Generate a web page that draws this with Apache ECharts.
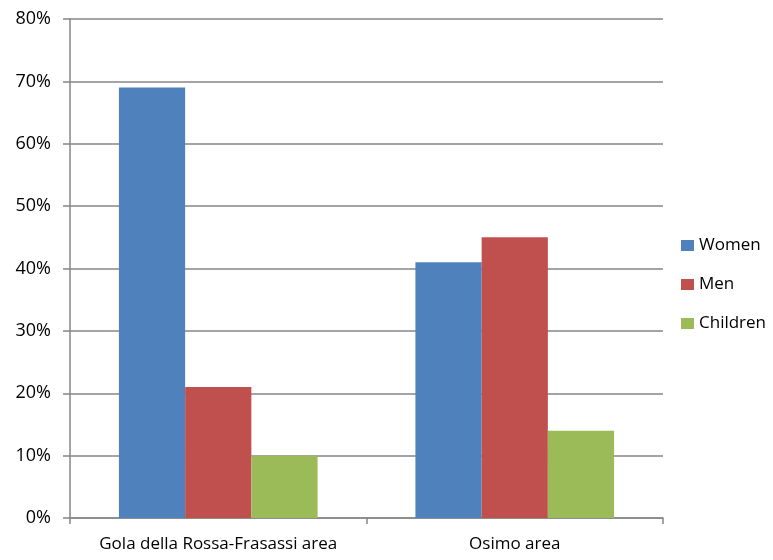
<!DOCTYPE html>
<html>
<head>
<meta charset="utf-8">
<script src="https://cdn.jsdelivr.net/npm/echarts@6/dist/echarts.min.js"></script>
<style>
    html, body {margin: 0; padding: 0; background: #fff;}
    #chart {width: 773px; height: 560px;}
</style>
</head>
<body>
<div id="chart"></div>
<script>
    const categories = ['Gola della Rossa-Frasassi area', 'Osimo area']
    const women = [69, 41]
    const men = [21, 45]
    const children = [10, 14]
    const yTicks = [0, 10, 20, 30, 40, 50, 60, 70, 80]

    const font = "'Open Sans', 'Liberation Sans', sans-serif"
    const gray = '#868686'

    const myChart = echarts.init(document.getElementById('chart'))
    myChart.setOption({
        animation: false,
        grid: {left: 70, right: 110, top: 19, bottom: 42},
        legend: {
            orient: 'vertical',
            left: 676,
            top: 232,
            itemWidth: 13,
            itemHeight: 11,
            itemGap: 22,
            icon: 'rect',
            textStyle: {fontFamily: font, fontSize: 17, color: '#000'},
            data: ['Women', 'Men', 'Children']
        },
        xAxis: {
            type: 'category',
            data: categories,
            axisLine: {lineStyle: {color: gray, width: 1.5}},
            axisTick: {show: true, length: 6, lineStyle: {color: gray, width: 1.5}},
            axisLabel: {fontFamily: font, fontSize: 17, color: '#000', margin: 18, interval: 0}
        },
        yAxis: {
            type: 'value',
            min: yTicks[0],
            max: yTicks[yTicks.length - 1],
            interval: 10,
            axisLine: {show: true, lineStyle: {color: gray, width: 1.5}},
            axisTick: {show: true, length: 7, lineStyle: {color: gray, width: 1.5}},
            splitLine: {lineStyle: {color: gray, width: 1.5}},
            axisLabel: {fontFamily: font, fontSize: 18, color: '#000', margin: 19, formatter: '{value}%'}
        },
        series: [
            {name: 'Women', type: 'bar', data: women, barGap: 0, barCategoryGap: '33%', itemStyle: {color: '#4F81BD'}},
            {name: 'Men', type: 'bar', data: men, barGap: 0, barCategoryGap: '33%', itemStyle: {color: '#C0504D'}},
            {name: 'Children', type: 'bar', data: children, barGap: 0, barCategoryGap: '33%', itemStyle: {color: '#9BBB59'}}
        ]
    })
</script>
</body>
</html>
